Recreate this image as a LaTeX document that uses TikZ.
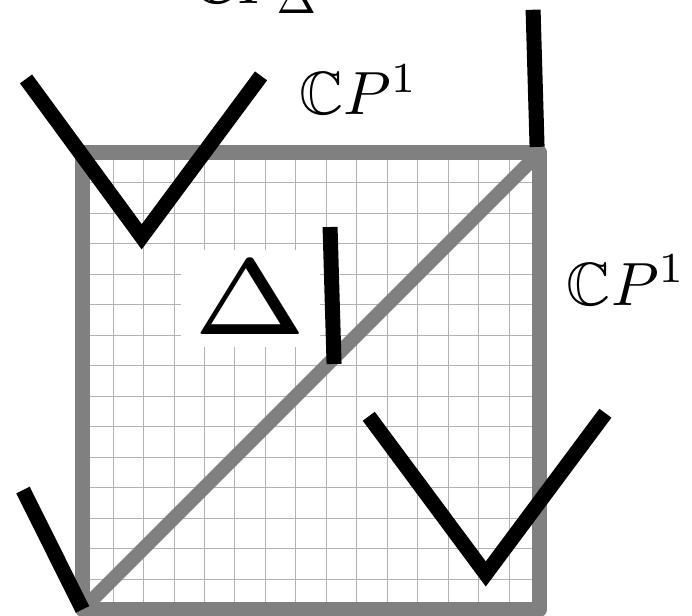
\documentclass[tikz,border=0pt]{standalone}
\usepackage{amssymb}

\begin{document}
\begin{tikzpicture}[
  gridline/.style={draw=gray!60,line width=0.8pt},
  frame/.style={draw=gray,line width=14pt,line join=round},
  stroke/.style={draw=black,line width=14pt,line cap=butt,line join=miter},
  lbl/.style={anchor=base,scale=5.7,inner sep=0pt}]
\useasboundingbox (-2.708,-0.213) rectangle (20.0,20.0);
\coordinate (sw) at (0,0);
\coordinate (ne) at (15,15);
% polytope
\draw[gridline] (sw) grid (ne);
\draw[frame] (sw) rectangle (ne);
\draw[frame,line width=13pt] (sw) -- (ne);
\node[fill=white,scale=20,inner xsep=0.5pt,inner ysep=0.55pt] (delta) at (5.51,10.21) {$\scriptscriptstyle\Delta$};

% curves
\draw[stroke] (-1.854,17.41) -- (1.943,12.23) -- (5.858,17.51);
\draw[stroke] (9.393,6.34) -- (13.233,1.165) -- (17.158,6.44);
\draw[stroke] (8.123,12.55) -- (8.254,8.057);
\draw[stroke] (14.785,19.68) -- (14.916,15.18);
\draw[stroke] (-1.953,3.92) -- (sw);

\node[lbl] (cpdelta) at (5.70,19.87) {$\mathbb{C}P_\Delta$};
\node[lbl] (cptop) at (9.06,16.23) {$\mathbb{C}P^1$};
\node[lbl] (cpright) at (17.85,9.99) {$\mathbb{C}P^1$};
\end{tikzpicture}
\end{document}
